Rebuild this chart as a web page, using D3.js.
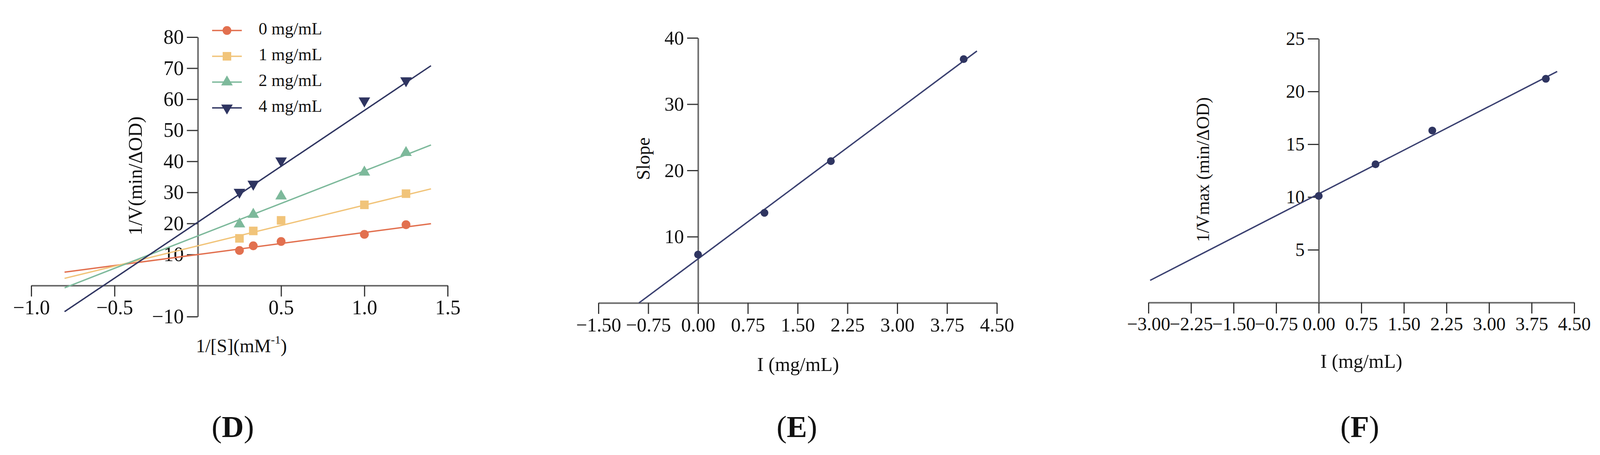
<!DOCTYPE html>
<html lang="en">
<head>
<meta charset="UTF-8">
<title>Inhibition kinetics</title>
<script src="https://d3js.org/d3.v7.min.js"></script>
<style>
html, body { margin: 0; padding: 0; background: #fff; }
svg text { font-family: 'Liberation Serif', 'Times New Roman', serif; fill: #111; }
.domain { stroke: #6b6b6b; stroke-width: 4; }
.tick line { stroke: #333; stroke-width: 3; }
</style>
</head>
<body>
<svg id="canvas"></svg>
<script>
// ---- panel D: Lineweaver-Burk ----
let invS = [0.25, 0.333, 0.5, 1.0, 1.25]
let groupNames = ['0 mg/mL', '1 mg/mL', '2 mg/mL', '4 mg/mL']
let invV0 = [11.3, 12.8, 14.2, 16.5, 19.6]
let invV1 = [15.2, 17.6, 21.0, 26.0, 29.6]
let invV2 = [19.8, 22.9, 28.8, 36.5, 42.8]
let invV4 = [30.1, 32.7, 40.2, 59.5, 66.0]
let fitInterceptD = [10.0, 12.8, 16.0, 20.4]
let fitSlopeD = [7.1, 13.1, 20.9, 36.0]
let fitRangeD = [-0.8, 1.4]
let xTicksD = [-1.0, -0.5, 0.5, 1.0, 1.5]
let yTicksD = [-10, 10, 20, 30, 40, 50, 60, 70, 80]

// ---- panel E: secondary plot of slope ----
let concE = [0, 1, 2, 4]
let slopeE = [7.3, 13.6, 21.4, 36.8]
let fitE = {intercept: 6.65, slope: 7.47, range: [-0.89, 4.2]}
let xTicksE = [-1.5, -0.75, 0, 0.75, 1.5, 2.25, 3.0, 3.75, 4.5]
let yTicksE = [10, 20, 30, 40]

// ---- panel F: secondary plot of 1/Vmax ----
let concF = [0, 1, 2, 4]
let invVmaxF = [10.1, 13.1, 16.3, 21.2]
let fitF = {intercept: 10.3, slope: 2.76, range: [-2.97, 4.2]}
let xTicksF = [-3.0, -2.25, -1.5, -0.75, 0, 0.75, 1.5, 2.25, 3.0, 3.75, 4.5]
let yTicksF = [5, 10, 15, 20, 25]

let colors = ['#e2704f', '#f1c47a', '#7db99b', '#2f3561']
let navy = '#3a4070'

let width = 4100
let height = 1164

let svg = d3.select('#canvas')
    .attr('width', width)
    .attr('height', height)

let drawAxes = (g, xScale, yScale, xTicks, yTicks, fmt, fontSize) => {
    let xAxis = d3.axisBottom(xScale)
        .tickValues(xTicks)
        .tickFormat(d3.format(fmt))
        .tickSize(28)
        .tickSizeOuter(0)
        .tickPadding(9)
    let yAxis = d3.axisLeft(yScale)
        .tickValues(yTicks)
        .tickSize(28)
        .tickSizeOuter(0)
        .tickPadding(8)

    g.append('g')
        .attr('transform', 'translate(0,' + yScale(0) + ')')
        .call(xAxis)
        .selectAll('text')
        .style('font-size', fontSize + 'px')

    g.append('g')
        .attr('transform', 'translate(' + xScale(0) + ',0)')
        .call(yAxis)
        .selectAll('text')
        .style('font-size', fontSize + 'px')
}

let drawFit = (g, xScale, yScale, intercept, slope, range, color) => {
    let ends = range.map(x => [x, intercept + slope * x])
    g.append('path')
        .datum(ends)
        .attr('fill', 'none')
        .attr('stroke', color)
        .attr('stroke-width', 3.5)
        .attr('d', d3.line().x(d => xScale(d[0])).y(d => yScale(d[1])))
}

let panelLetter = (x, letter) => {
    let t = svg.append('text')
        .attr('x', x)
        .attr('y', 1100)
        .attr('text-anchor', 'middle')
        .attr('dominant-baseline', 'middle')
        .style('font-size', '78px')
    t.append('tspan').text('(')
    t.append('tspan').attr('font-weight', 'bold').text(letter)
    t.append('tspan').text(')')
}

// ---------------- D ----------------
let gD = svg.append('g')
let xD = d3.scaleLinear().domain([-1, 1.5]).range([80, 1146])
let yD = d3.scaleLinear().domain([-10, 80]).range([810, 95])

drawAxes(gD, xD, yD, xTicksD, yTicksD, '.1f', 52)

let seriesD = [invV0, invV1, invV2, invV4]
let symbolsD = [
    d3.symbol().type(d3.symbolCircle).size(400),
    d3.symbol().type(d3.symbolSquare).size(480),
    d3.symbol().type(d3.symbolTriangle).size(380),
    d3.symbol().type(d3.symbolTriangle).size(380)
]

seriesD.forEach((vals, i) => {
    drawFit(gD, xD, yD, fitInterceptD[i], fitSlopeD[i], fitRangeD, colors[i])
})

seriesD.forEach((vals, i) => {
    gD.append('g')
        .selectAll('path')
        .data(vals)
        .enter()
        .append('path')
        .attr('d', symbolsD[i]())
        .attr('fill', colors[i])
        .attr('transform', (d, j) => 'translate(' + xD(invS[j]) + ',' + yD(d) + ')' + (i === 3 ? ' rotate(180)' : ''))
})

// legend
let legend = gD.append('g')
groupNames.forEach((name, i) => {
    let y = 78 + i * 66
    legend.append('line')
        .attr('x1', 543).attr('x2', 619)
        .attr('y1', y).attr('y2', y)
        .attr('stroke', colors[i])
        .attr('stroke-width', 3.5)
    legend.append('path')
        .attr('d', symbolsD[i]())
        .attr('fill', colors[i])
        .attr('transform', 'translate(581,' + y + ')' + (i === 3 ? ' rotate(180)' : ''))
    legend.append('text')
        .attr('x', 662)
        .attr('y', y)
        .attr('dominant-baseline', 'middle')
        .style('font-size', '44px')
        .text(name)
})

gD.append('text')
    .attr('transform', 'translate(352,450) rotate(-90)')
    .attr('text-anchor', 'middle')
    .attr('dominant-baseline', 'middle')
    .style('font-size', '50px')
    .text('1/V(min/ΔOD)')

let xtD = gD.append('text')
    .attr('x', 618)
    .attr('y', 890)
    .attr('text-anchor', 'middle')
    .attr('dominant-baseline', 'middle')
    .style('font-size', '48px')
xtD.append('tspan').text('1/[S](mM')
xtD.append('tspan').attr('dy', -18).style('font-size', '30px').text('-1')
xtD.append('tspan').attr('dy', 18).text(')')

panelLetter(596, 'D')

// ---------------- E ----------------
let gE = svg.append('g')
let xE = d3.scaleLinear().domain([-1.5, 4.5]).range([1532, 2552])
let yE = d3.scaleLinear().domain([0, 40]).range([775, 97])

drawAxes(gE, xE, yE, xTicksE, yTicksE, '.2f', 50)
drawFit(gE, xE, yE, fitE.intercept, fitE.slope, fitE.range, navy)

gE.selectAll('circle')
    .data(slopeE)
    .enter()
    .append('circle')
    .attr('cx', (d, i) => xE(concE[i]))
    .attr('cy', d => yE(d))
    .attr('r', 10)
    .attr('fill', colors[3])

gE.append('text')
    .attr('transform', 'translate(1652,406) rotate(-90)')
    .attr('text-anchor', 'middle')
    .attr('dominant-baseline', 'middle')
    .style('font-size', '48px')
    .text('Slope')

gE.append('text')
    .attr('x', 2043)
    .attr('y', 938)
    .attr('text-anchor', 'middle')
    .attr('dominant-baseline', 'middle')
    .style('font-size', '50px')
    .text('I (mg/mL)')

panelLetter(2040, 'E')

// ---------------- F ----------------
let gF = svg.append('g')
let xF = d3.scaleLinear().domain([-3, 4.5]).range([2940, 4030])
let yF = d3.scaleLinear().domain([0, 25]).range([774, 99])

drawAxes(gF, xF, yF, xTicksF, yTicksF, '.2f', 48)
drawFit(gF, xF, yF, fitF.intercept, fitF.slope, fitF.range, navy)

gF.selectAll('circle')
    .data(invVmaxF)
    .enter()
    .append('circle')
    .attr('cx', (d, i) => xF(concF[i]))
    .attr('cy', d => yF(d))
    .attr('r', 10)
    .attr('fill', colors[3])

gF.append('text')
    .attr('transform', 'translate(3084,434) rotate(-90)')
    .attr('text-anchor', 'middle')
    .attr('dominant-baseline', 'middle')
    .style('font-size', '46px')
    .text('1/Vmax (min/ΔOD)')

gF.append('text')
    .attr('x', 3485)
    .attr('y', 930)
    .attr('text-anchor', 'middle')
    .attr('dominant-baseline', 'middle')
    .style('font-size', '50px')
    .text('I (mg/mL)')

panelLetter(3481, 'F')
</script>
</body>
</html>
